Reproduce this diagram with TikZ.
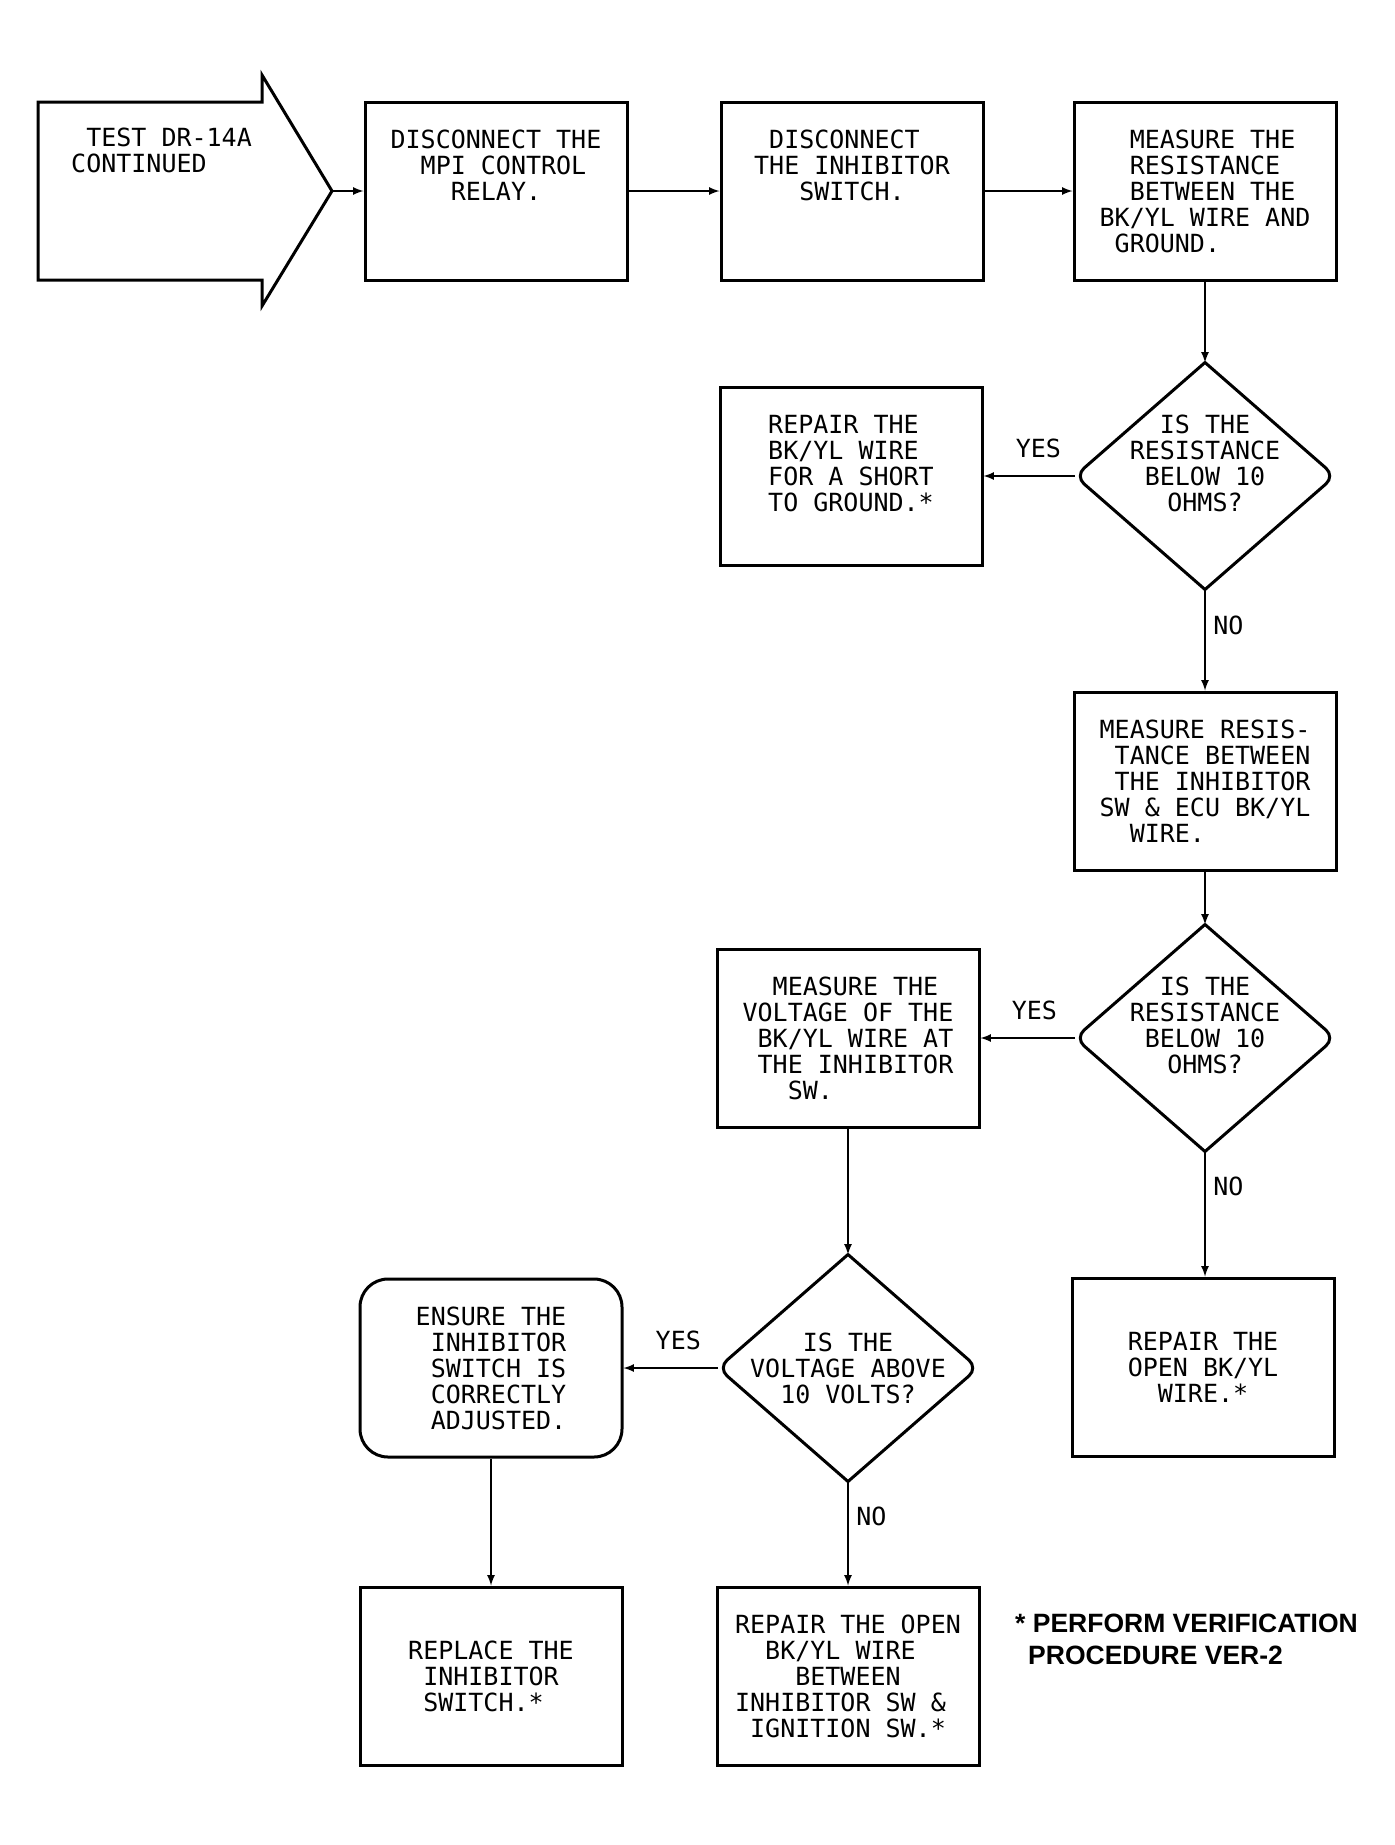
\documentclass[tikz,border=0pt]{standalone}
\usepackage{fontspec}
\newfontfamily\plotfont{DejaVu Sans Mono}
\newfontfamily\notefont{Liberation Sans}
\usetikzlibrary{shapes, arrows, positioning}
\newcommand{\indt}[1]{\hspace*{#1\dimexpr0.602em\relax}}
\tikzstyle{txt} = [font=\plotfont\fontsize{25}{26}\selectfont, align=left, inner sep=0pt]
\tikzstyle{paso} = [txt, draw, line width=3pt, rectangle, minimum width=262pt, minimum height=178pt]
\tikzset{arriba/.style={text depth=#1}}
\tikzstyle{pregunta} = [diamond, minimum width=260pt, minimum height=227pt, inner sep=0pt, outer sep=0pt]
\tikzstyle{borde} = [line width=3pt, rounded corners=12pt, line cap=round]
\tikzstyle{flecha} = [line width=2.5pt, -latex]
\tikzstyle{etiqueta} = [font=\plotfont\fontsize{25}{26}\selectfont, inner sep=0pt]
\tikzstyle{nota} = [font=\notefont\bfseries\fontsize{26.5}{32}\selectfont, align=left, inner sep=0pt]

\begin{document}
\begin{tikzpicture}[x=1pt, y=-1pt]
	\useasboundingbox (0,0) rectangle (1395,1845);
	\draw[line width=3pt] (38,102) -- (262,102) -- (262,75) -- (332,191) -- (262,306) -- (262,280) -- (38,280) -- cycle;
	\coordinate (punta) at (332,191);
	\node[txt, anchor=north west] (inicio) at (71,128) {\indt{1}TEST DR-14A\\CONTINUED};

	\node[paso, arriba=52pt] (b2) at (496,191) {DISCONNECT THE\\\indt{2}MPI CONTROL\\\indt{4}RELAY.};
	\node[paso, arriba=52pt] (b3) at (852,191) {\indt{1}DISCONNECT\\THE INHIBITOR\\\indt{3}SWITCH.};
	\node[paso] (b4) at (1205,191) {\indt{2}MEASURE THE\\\indt{2}RESISTANCE\\\indt{2}BETWEEN THE\\BK/YL WIRE AND\\\indt{1}GROUND.};

	\node[pregunta] (q1) at (1205,476) {};
	\node[txt, align=center] (q1t) at ([yshift=13pt]q1.center) {IS THE\\RESISTANCE\\BELOW 10\\OHMS?};
	\node[paso, arriba=26pt] (r1) at (851,476) {REPAIR THE\\BK/YL WIRE\\FOR A SHORT\\TO GROUND.*};

	\node[paso] (m2) at (1205,781) {MEASURE RESIS-\\\indt{1}TANCE BETWEEN\\\indt{1}THE INHIBITOR\\SW \& ECU BK/YL\\\indt{2}WIRE.};
	\node[pregunta] (q2) at (1205,1038) {};
	\node[txt, align=center] (q2t) at ([yshift=13pt]q2.center) {IS THE\\RESISTANCE\\BELOW 10\\OHMS?};
	\node[paso] (m3) at (848,1038) {\indt{2}MEASURE THE\\VOLTAGE OF THE\\\indt{1}BK/YL WIRE AT\\\indt{1}THE INHIBITOR\\\indt{3}SW.};
	\node[paso] (r2) at (1203,1367) {REPAIR THE\\OPEN BK/YL\\\indt{2}WIRE.*};

	\node[pregunta] (q3) at (848,1368) {};
	\node[txt, align=center] (q3t) at (q3.center) {IS THE\\VOLTAGE ABOVE\\10 VOLTS?};
	\node[paso, rounded corners=28pt] (e1) at (491,1368) {ENSURE THE\\\indt{1}INHIBITOR\\\indt{1}SWITCH IS\\\indt{1}CORRECTLY\\\indt{1}ADJUSTED.};
	\node[paso] (p1) at (491,1676) {REPLACE THE\\\indt{1}INHIBITOR\\\indt{1}SWITCH.*};
	\node[paso] (r3) at (848,1676) {REPAIR THE OPEN\\\indt{2}BK/YL WIRE\\\indt{4}BETWEEN\\INHIBITOR SW \&\\\indt{1}IGNITION SW.*};

	\node[nota, anchor=north west] (nota) at (1015,1614) {*~PERFORM VERIFICATION\\\hspace*{13pt}PROCEDURE VER-2};

	\foreach \q in {q1,q2,q3}{
		\draw[borde] (\q.north) -- (\q.east) -- (\q.south);
		\draw[borde] (\q.north) -- (\q.west) -- (\q.south);
	}

	\draw[flecha] (punta) -- (b2.west);
	\draw[flecha] (b2) -- (b3);
	\draw[flecha] (b3) -- (b4);
	\draw[flecha] (b4) -- (q1.north);
	\draw[flecha] (q1.west) -- node[etiqueta, pos=0.4, above=17pt] (si1) {YES} (r1.east);
	\draw[flecha] (q1.south) -- node[etiqueta, pos=0.36, right=7pt] (no1) {NO} (m2.north);
	\draw[flecha] (m2) -- (q2.north);
	\draw[flecha] (q2.west) -- node[etiqueta, pos=0.43, above=17pt] (si2) {YES} (m3.east);
	\draw[flecha] (q2.south) -- node[etiqueta, pos=0.28, right=7pt] (no2) {NO} (q2.south |- r2.north);
	\draw[flecha] (m3) -- (q3.north);
	\draw[flecha] (q3.west) -- node[etiqueta, pos=0.42, above=17pt] (si3) {YES} (e1.east);
	\draw[flecha] (q3.south) -- node[etiqueta, pos=0.34, right=7pt] (no3) {NO} (r3.north);
	\draw[flecha] (e1) -- (p1);
\end{tikzpicture}
\end{document}
